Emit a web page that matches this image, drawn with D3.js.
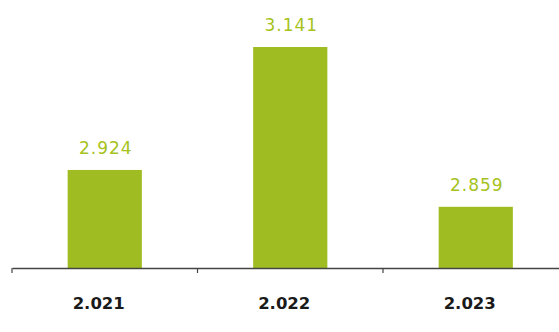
<!DOCTYPE html>
<html>
<head>
<meta charset="utf-8">
<script src="https://cdn.jsdelivr.net/npm/d3@7"></script>
<style>
  html, body { margin: 0; padding: 0; background: #ffffff; }
  svg { display: block; }
</style>
</head>
<body>
<svg id="chart" width="559" height="332"></svg>
<script>
const categories = ["2.021", "2.022", "2.023"];
const values = [2924, 3141, 2859];
const valueLabels = ["2.924", "3.141", "2.859"];

const svg = d3.select("#chart");
const axisY = 268;

const x = d3.scaleBand().domain(categories).range([12, 568.5]).padding(0);
const y = d3.scaleLinear().domain([2751, 3141]).range([axisY, 47]);

const barW = x.bandwidth() * 0.4;
const barColor = "#9fbd22";

// bars
svg.selectAll("rect.bar").data(values).join("rect")
  .attr("class", "bar")
  .attr("x", (d, i) => x(categories[i]) + x.bandwidth() / 2 - barW / 2)
  .attr("y", d => y(d))
  .attr("width", barW)
  .attr("height", d => axisY - y(d))
  .attr("fill", barColor);

// value labels
svg.selectAll("text.val").data(values).join("text")
  .attr("class", "val")
  .attr("x", (d, i) => x(categories[i]) + x.bandwidth() / 2 + 1)
  .attr("y", d => y(d) - 16)
  .attr("text-anchor", "middle")
  .attr("font-family", "DejaVu Sans, Verdana, sans-serif")
  .attr("font-size", 17)
  .attr("letter-spacing", 1)
  .attr("fill", "#a6c21c")
  .text((d, i) => valueLabels[i]);

// axis
const axis = d3.axisBottom(x).tickSize(5).tickSizeOuter(0).tickFormat("");
const g = svg.append("g").attr("transform", `translate(0,${axisY})`).call(axis);
g.select(".domain").attr("stroke", "#444").attr("stroke-width", 1.5);
g.selectAll(".tick").remove();
// ticks at band boundaries
g.selectAll("line.bt").data(categories).join("line")
  .attr("class", "bt")
  .attr("x1", d => x(d)).attr("x2", d => x(d))
  .attr("y1", 0).attr("y2", 5)
  .attr("stroke", "#444").attr("stroke-width", 1.2);

// category labels
svg.selectAll("text.cat").data(categories).join("text")
  .attr("class", "cat")
  .attr("x", d => x(d) + x.bandwidth() / 2 - 6)
  .attr("y", 309)
  .attr("text-anchor", "middle")
  .attr("font-family", "DejaVu Sans, Verdana, sans-serif")
  .attr("font-weight", "bold")
  .attr("font-size", 16.5)
  .attr("fill", "#1a1a1a")
  .text(d => d);
</script>
</body>
</html>
